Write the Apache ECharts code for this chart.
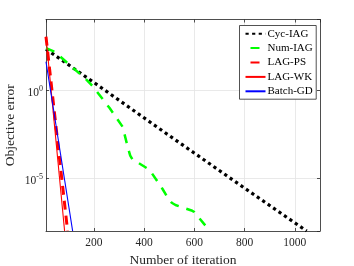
<!DOCTYPE html>
<html><head><meta charset="utf-8">
<script src="https://cdn.jsdelivr.net/npm/echarts@6/dist/echarts.min.js"></script>
<style>html,body{margin:0;padding:0;background:#fff}#c{width:354px;height:266px}</style>
</head><body><div id="c"></div>
<script>
const seriesNames = ['Cyc-IAG', 'Num-IAG', 'LAG-PS', 'LAG-WK', 'Batch-GD'];
// [iteration, objective error]
const cycIag = [[10, 210], [200, 2.7], [500, 2.6e-3], [800, 2.7e-6], [1047, 1e-8]];
const numIag = [[10, 235], [45, 148], [105, 25.7], [164, 4.8], [197, 1.55], [263, 0.095],
  [315, 8.1e-3], [335, 5.9e-4], [345, 1.9e-4], [355, 1.1e-4], [370, 8.5e-5], [422, 2.95e-5],
  [473, 2.5e-6], [495, 7.5e-7], [510, 4.0e-7], [525, 3.0e-7], [592, 1.4e-7], [600, 1.2e-7],
  [650, 1.6e-8]];
const lagPs = [[10, 1050], [96, 1e-8]];
const lagWk = [[10, 1050], [84, 1e-8]];
const batchGd = [[10, 40], [116, 1e-8]];

const xMin = 10, xMax = 1100;
const yMin = 1e-8, yMax = 1e4;

const chart = echarts.init(document.getElementById('c'), null, {renderer: 'canvas'});
const serif = 'Liberation Serif';
const axisColor = '#262626';
const gridColor = '#e3e3e3';

function yLabel(v) {
  const e = Math.round(Math.log10(v));
  return '{b|10}{s|' + e + '}';
}

const legendData = seriesNames.map(function (n, i) {
  if (i === 1 || i === 2) {
    return {name: n, lineStyle: {type: [0, 5, 9, 30]}};
  }
  return {name: n};
});

chart.setOption({
  animation: false,
  backgroundColor: '#fff',
  grid: {left: 46, right: 34, top: 19.5, bottom: 35, containLabel: false, outerBoundsMode: 'none'},
  legend: {
    orient: 'vertical', left: 239.5, top: 25.5,
    padding: [2.7, 3.5, 2.4, 5],
    itemWidth: 20, itemHeight: 10, itemGap: 3.4,
    backgroundColor: '#fff', borderColor: axisColor, borderWidth: 0.8, borderRadius: 0,
    itemStyle: {color: 'rgba(0,0,0,0)', borderColor: 'rgba(0,0,0,0)', borderWidth: 0, opacity: 0},
    textStyle: {fontFamily: serif, fontSize: 11, color: '#000', lineHeight: 10, padding: [0, 0, 0, -3]},
    data: legendData
  },
  xAxis: [{
    type: 'value', min: xMin, max: xMax, splitNumber: 5,
    name: 'Number of iteration', nameLocation: 'middle', nameGap: 22, nameMoveOverlap: false,
    nameTextStyle: {fontFamily: serif, fontSize: 13.5, color: '#262626'},
    axisLine: {show: true, lineStyle: {color: axisColor, width: 0.8}},
    axisTick: {show: true, inside: true, length: 3, lineStyle: {color: axisColor, width: 0.8}},
    axisLabel: {showMinLabel: false, showMaxLabel: false, margin: 6, fontFamily: serif, fontSize: 11.5,
      color: '#262626', formatter: v => String(v)},
    splitLine: {show: true, lineStyle: {color: gridColor, width: 0.8}}
  }, {
    type: 'value', min: xMin, max: xMax, splitNumber: 5, position: 'top',
    axisLine: {show: true, lineStyle: {color: axisColor, width: 0.8}},
    axisTick: {show: true, inside: true, length: 3, lineStyle: {color: axisColor, width: 0.8}},
    axisLabel: {show: false}, splitLine: {show: false}
  }],
  yAxis: [{
    type: 'log', logBase: 1e5, min: yMin, max: yMax,
    name: 'Objective error', nameLocation: 'middle', nameGap: 29, nameMoveOverlap: false,
    nameTextStyle: {fontFamily: serif, fontSize: 13.5, color: '#262626'},
    axisLine: {show: true, lineStyle: {color: axisColor, width: 0.8}},
    axisTick: {show: true, inside: true, length: 3, lineStyle: {color: axisColor, width: 0.8}},
    axisLabel: {
      showMinLabel: false, showMaxLabel: false, margin: 3, formatter: yLabel,
      rich: {
        b: {fontFamily: serif, fontSize: 11.5, color: '#262626', padding: [6, 0, 0, 0]},
        s: {fontFamily: serif, fontSize: 8, color: '#262626', padding: [0, 0, 3, 0]}
      }
    },
    splitLine: {show: true, lineStyle: {color: gridColor, width: 0.8}}
  }, {
    type: 'log', logBase: 1e5, min: yMin, max: yMax, position: 'right',
    axisLine: {show: true, lineStyle: {color: axisColor, width: 0.8}},
    axisTick: {show: true, inside: true, length: 3, lineStyle: {color: axisColor, width: 0.8}},
    axisLabel: {show: false}, splitLine: {show: false}
  }],
  series: [
    {name: seriesNames[0], type: 'line', data: cycIag, symbol: 'none', z: 3,
      lineStyle: {color: '#000', width: 3.2, type: [3.2, 3.4], cap: 'butt'}, itemStyle: {color: '#000'}},
    {name: seriesNames[1], type: 'line', data: numIag, symbol: 'none', z: 4,
      lineStyle: {color: '#00ff00', width: 2.5, type: [9, 8], cap: 'butt'}, itemStyle: {color: '#00ff00'}},
    {name: seriesNames[2], type: 'line', data: lagPs, symbol: 'none', z: 5,
      lineStyle: {color: '#ff0000', width: 3, type: [9, 6], cap: 'butt'}, itemStyle: {color: '#ff0000'}},
    {name: seriesNames[3], type: 'line', data: lagWk, symbol: 'none', z: 6,
      lineStyle: {color: '#ff0000', width: 1.1}, itemStyle: {color: '#ff0000'}},
    {name: seriesNames[4], type: 'line', data: batchGd, symbol: 'none', z: 7,
      lineStyle: {color: '#0000ff', width: 1.1}, itemStyle: {color: '#0000ff'}}
  ]
});
</script>
</body></html>
